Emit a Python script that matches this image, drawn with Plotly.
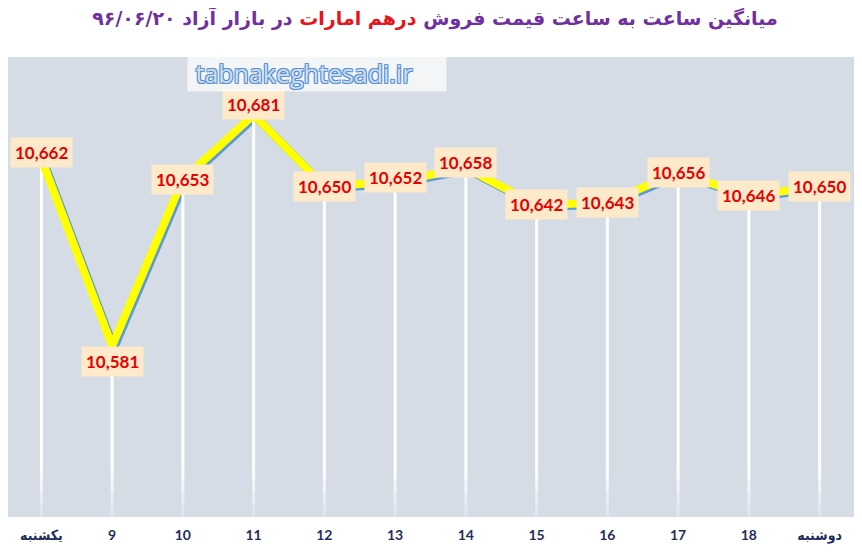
import plotly.graph_objects as go

# hour labels (first and last are day names)
hours = ["یکشنبه", "9", "10", "11", "12", "13", "14", "15", "16", "17", "18", "دوشنبه"]
prices = [10662, 10581, 10653, 10681, 10650, 10652, 10658, 10642, 10643, 10656, 10646, 10650]

title_a = "میانگین ساعت به ساعت قیمت فروش "
title_b = "درهم امارات"
title_c = " در بازار آزاد ۹۶/۰۶/۲۰"
watermark = "tabnakeghtesadi.ir"

# label nudges in px (the excel labels were dragged a bit)
label_shift = [6, -16, 0, 10, 0, 4, 5, 0, 0, 0, 0, 0]

Y_MIN, Y_MAX = 10507, 10706
# page body adds an 8px margin, so the figure is a bit smaller than the window
W, H = 854, 544
ML, MR, MT, MB = 0, 7, 49, 35
pw, ph = W - ML - MR, H - MT - MB
n = len(hours)
cat_px = 70.75
X0 = -0.5 + 2 / cat_px
X1 = n - 0.5

# shadow axes sit 2px right / 2px down of the main ones
dx = 2 / cat_px
dy = 2 / (ph / (Y_MAX - Y_MIN))

fig = go.Figure()

# blue shadow line (xy, shifted)
fig.add_trace(go.Scatter(
    x=list(range(n)), y=prices, mode="lines", xaxis="x", yaxis="y",
    line=dict(color="#5b9bd5", width=8), hoverinfo="skip"))

# white drop lines
fig.add_trace(go.Scatter(
    x=list(range(n)), y=prices, mode="markers", xaxis="x2", yaxis="y2",
    marker=dict(size=1, color="rgba(0,0,0,0)"),
    error_y=dict(type="data", symmetric=False, array=[0] * n,
                 arrayminus=[p - Y_MIN for p in prices],
                 color="white", thickness=3, width=0),
    hoverinfo="skip"))

# main yellow line
fig.add_trace(go.Scatter(
    x=list(range(n)), y=prices, mode="lines", xaxis="x2", yaxis="y2",
    line=dict(color="#ffff00", width=8)))

for i, p in enumerate(prices):
    fig.add_annotation(
        x=i, y=p, xref="x2", yref="y2", text=f"{p:,}", showarrow=False,
        yshift=label_shift[i], bgcolor="#fdeacb", borderpad=4,
        font=dict(family="Lato", size=17, color="#e60000", weight="bold"))

fig.add_annotation(
    x=309 / pw, y=(H - MB - 65) / ph, xref="paper", yref="paper",
    xanchor="center", yanchor="middle", align="left",
    text="&nbsp;" + watermark, showarrow=False, bgcolor="rgba(255,255,255,0.7)",
    borderpad=1, width=256,
    font=dict(family="Open Sans", size=25, color="#c9dff3",
              shadow="1px 1px 0 #5b8fd0, -1px -1px 0 #5b8fd0, 1px -1px 0 #5b8fd0, -1px 1px 0 #5b8fd0"))

# soften the drop lines toward the bottom like the excel gradient
for k, a in enumerate([0.25, 0.45, 0.65, 0.8]):
    fig.add_shape(type="rect", xref="paper", yref="paper", x0=0, x1=1,
                  y0=0, y1=(4 - k) * 12 / ph, fillcolor="#d6dce5", opacity=a * 0.5,
                  line=dict(width=0), layer="above")

# plot background as a shape so both overlapping subplots share it
fig.add_shape(type="rect", xref="paper", yref="paper", x0=0, x1=1, y0=0, y1=1,
              fillcolor="#d6dce5", line=dict(width=0), layer="below")

fig.update_layout(
    width=W, height=H,
    margin=dict(l=ML, r=MR, t=MT, b=MB, autoexpand=False),
    paper_bgcolor="white", plot_bgcolor="rgba(0,0,0,0)",
    showlegend=False,
    title=dict(
        text=f"{title_a}<span style='color:#e8141b'>{title_b}</span>{title_c}",
        x=0.5, xanchor="center", y=1 - 10 / H, yanchor="middle", yref="container",
        font=dict(family="DejaVu Sans", size=19, color="#7030a0", weight="bold")),
    xaxis=dict(domain=[dx * cat_px / pw, 1], range=[X0, X1 - dx], visible=False,
               anchor="y"),
    yaxis=dict(domain=[0, 1 - 2 / ph], range=[Y_MIN + dy, Y_MAX], visible=False,
               anchor="x"),
    xaxis2=dict(domain=[0, 1], range=[X0, X1], anchor="y2",
                tickmode="array", tickvals=list(range(n)), ticktext=hours,
                showgrid=False, zeroline=False, ticks="", showline=False,
                ticklabelstandoff=8,
                tickfont=dict(family="Lato, DejaVu Sans Condensed", size=14,
                              color="#1f2d5a", weight="bold")),
    yaxis2=dict(domain=[0, 1], range=[Y_MIN, Y_MAX], anchor="x2",
                visible=False),
)

fig.write_html("out.html")
